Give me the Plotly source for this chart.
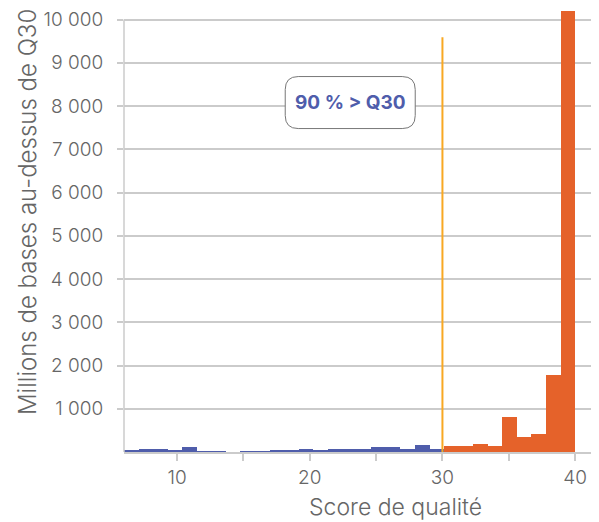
import plotly.graph_objects as go

# ---- data ----
bin_low = 6.0          # left edge of the first bin (quality score)
bin_high = 40.0        # right edge of the last bin
below_q30 = [40, 80, 80, 40, 120, 20, 20, 0, 20, 20, 40, 40, 80, 40,
             80, 80, 60, 120, 120, 60, 170, 80]
above_q30 = [150, 150, 175, 130, 820, 340, 410, 1790, 10200]
x_ticks = [10, 20, 30, 40]
y_ticks = [1000, 2000, 3000, 4000, 5000, 6000, 7000, 8000, 9000, 10000]
threshold = 30
threshold_top = 9590
label_text = "90 % > Q30"
label_x, label_y = 23.05, 8080

BLUE = "#4f5dab"
ORANGE = "#e5622a"
AMBER = "#f8a823"
GRID = "#cbcbcb"
TXT = "#666666"
FONT = "Inter"

n_bins = len(below_q30) + len(above_q30)
w = (bin_high - bin_low) / n_bins
centers = [bin_low + w * (i + 0.5) for i in range(n_bins)]

# page body adds an 8px offset; compensate so the plot area lands at 124..599 x 10..452
OFF = 8
W, H = 599 - OFF, 522 - OFF
L, R, T, B = 124 - OFF, 0, 10 - OFF, 70
pw, ph = W - L - R, H - T - B

fig = go.Figure()
fig.add_trace(go.Bar(x=centers[:len(below_q30)], y=below_q30, width=w,
                     marker=dict(color=BLUE, line=dict(width=0)), showlegend=False))
fig.add_trace(go.Bar(x=centers[len(below_q30):], y=above_q30, width=w,
                     marker=dict(color=ORANGE, line=dict(width=0)), showlegend=False))

# y axis line only up to 10 000
fig.add_shape(type="line", xref="paper", yref="y", x0=0, x1=0, y0=0, y1=y_ticks[-1],
              line=dict(color=GRID, width=1.5), layer="above")
# Q30 threshold line
fig.add_shape(type="line", xref="x", yref="y", x0=threshold, x1=threshold, y0=0, y1=threshold_top,
              line=dict(color=AMBER, width=2), layer="above")

# rounded label box
px_x = pw / (41.8 - 6.0)
px_y = ph / 10220
hw, hh, r = 65 / px_x, 26 / px_y, 13
rx, ry = r / px_x, r / px_y
x0, x1 = label_x - hw, label_x + hw
y0, y1 = label_y - hh, label_y + hh
path = (f"M {x0+rx},{y1} L {x1-rx},{y1} Q {x1},{y1} {x1},{y1-ry} "
        f"L {x1},{y0+ry} Q {x1},{y0} {x1-rx},{y0} L {x0+rx},{y0} "
        f"Q {x0},{y0} {x0},{y0+ry} L {x0},{y1-ry} Q {x0},{y1} {x0+rx},{y1} Z")
fig.add_shape(type="path", path=path, xref="x", yref="y",
              line=dict(color="#777777", width=1), fillcolor="white", layer="above")
fig.add_annotation(x=label_x, y=label_y, xref="x", yref="y", text=f"<b>{label_text}</b>",
                   showarrow=False, font=dict(family=FONT, size=19, color=BLUE))


def to_paper(px, py):
    return (px - OFF - L) / pw, (H - B - (py - OFF)) / ph


tx, ty = to_paper(395, 507)
fig.add_annotation(x=tx, y=ty, xref="paper", yref="paper", text="Score de qualité",
                   xanchor="center", yanchor="middle", showarrow=False,
                   font=dict(family=FONT, size=23, color=TXT, weight=300))
tx, ty = to_paper(27, 212)
fig.add_annotation(x=tx, y=ty, xref="paper", yref="paper",
                   text="Millions de bases au-dessus de Q30", textangle=-90,
                   xanchor="center", yanchor="middle", showarrow=False,
                   font=dict(family=FONT, size=24, color=TXT, weight=300))

tickfont = dict(family=FONT, size=19, color=TXT, weight=300)
fig.update_layout(
    width=W, height=H,
    margin=dict(l=L, r=R, t=T, b=B, autoexpand=False),
    plot_bgcolor="white", paper_bgcolor="white",
    separators=", ",
    bargap=0,
    font=dict(family=FONT, color=TXT, size=16),
    xaxis=dict(range=[6.0, 41.8], tickvals=x_ticks, ticks="outside", ticklen=7,
               tickcolor=GRID, tickwidth=1.5, showline=True, linecolor=GRID, linewidth=1.5,
               showgrid=False, zeroline=False, tickfont=tickfont,
               minor=dict(dtick=5, tick0=0, ticks="outside", ticklen=7, tickcolor=GRID,
                          tickwidth=1.5, showgrid=False)),
    yaxis=dict(range=[0, 10220], tickvals=y_ticks, tickformat=",d", ticks="outside",
               ticklen=6, tickcolor=GRID, tickwidth=1.5, showgrid=True, gridcolor=GRID,
               gridwidth=1.5, showline=False, zeroline=False, ticklabelstandoff=10,
               tickfont=tickfont),
)

fig.write_html("out.html")
